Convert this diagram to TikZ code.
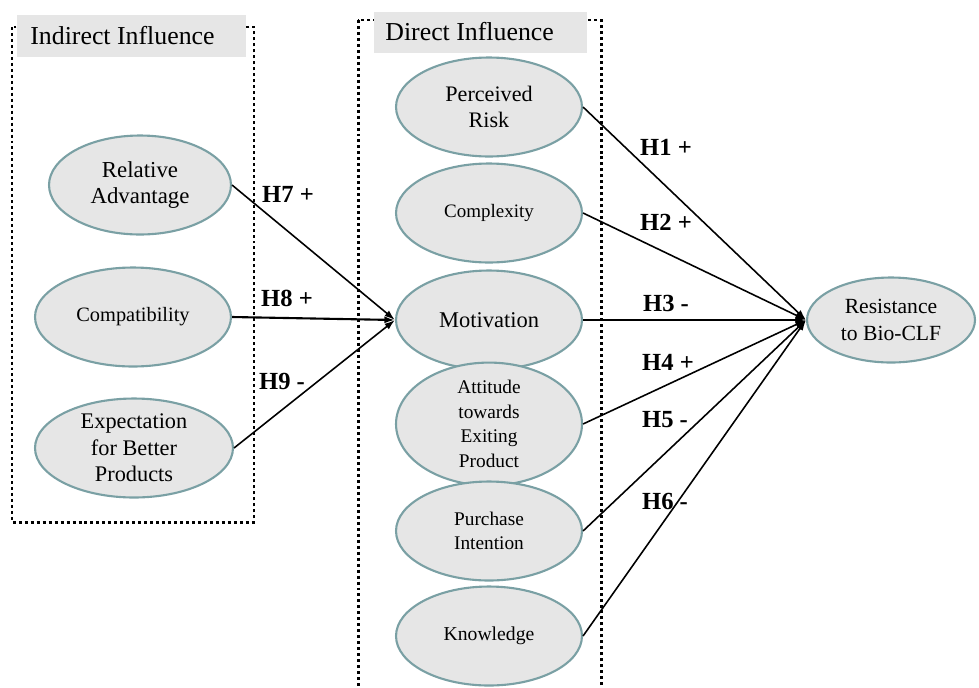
\documentclass[tikz,border=0pt]{standalone}
\usepackage{fontspec}
\setmainfont{Liberation Serif}
\usetikzlibrary{shapes.geometric,arrows.meta}
\definecolor{bubblefill}{RGB}{230,230,230}
\definecolor{bubbleedge}{RGB}{122,160,164}
\definecolor{headfill}{RGB}{230,230,230}
\begin{document}
\begin{tikzpicture}[x=0.02cm,y=-0.02cm,
  construct/.style={ellipse,draw=bubbleedge,fill=bubblefill,line width=1.2pt,inner sep=0pt,
    minimum width=3.72cm,minimum height=1.98cm,align=center,font=\fontsize{13}{15}\selectfont},
  region/.style={draw,line width=1.7pt,dash pattern=on 1.7pt off 1.7pt},
  heading/.style={anchor=west,inner sep=0pt,font=\fontsize{14.7}{17}\selectfont},
  link/.style={line width=0.9pt,-{Latex[length=6pt,width=4pt]}},
  hyp/.style={font=\bfseries\fontsize{14}{16}\selectfont}]
\useasboundingbox (0,0) rectangle (979,687);
\draw[region] (12,27) rectangle (254,522);
\draw[region] (358,20) rectangle (601,700);
\fill[headfill] (17,15) rectangle (246,57);
\fill[headfill] (374,12) rectangle (587,53);
\node[heading] (indirect) at (30,36) {Indirect Influence};
\node[heading] (direct) at (385,32) {Direct Influence};
\node[construct,minimum width=3.64cm] (ra) at (140,185) {Relative\\Advantage};
\node[construct,minimum width=3.92cm,font=\fontsize{11.6}{14}\selectfont] (comp) at (133,317) {Compatibility};
\node[construct,minimum width=3.96cm,font=\fontsize{12.7}{15}\selectfont] (exp) at (134,448) {Expectation\\for Better\\Products};
\node[construct,font=\fontsize{12.6}{15}\selectfont] (risk) at (489,107) {Perceived\\Risk};
\node[construct,font=\fontsize{10.8}{13}\selectfont] (cplx) at (489,213) {Complexity};
\node[construct,font=\fontsize{12.8}{15}\selectfont] (mot) at (489,320) {Motivation};
\node[construct,font=\fontsize{11}{13.9}\selectfont] (att) at (489,424) {Attitude\\towards\\Exiting\\Product};
\node[construct,font=\fontsize{11}{13.5}\selectfont] (pur) at (489,531) {Purchase\\Intention};
\node[construct,font=\fontsize{11.2}{13}\selectfont] (know) at (489,636) {Knowledge};
\node[construct,minimum width=3.36cm,minimum height=1.7cm,font=\fontsize{12.3}{15}\selectfont] (res) at (891,320) {Resistance\\to Bio-CLF};
\draw[link] (ra.east) -- (mot.west);
\draw[link,line width=1.2pt] (comp.east) -- (mot.west);
\draw[link] (exp.east) -- (mot.west);
\draw[link] (risk.east) -- (res.west);
\draw[link] (cplx.east) -- (res.west);
\draw[link,line width=1.4pt] (mot.east) -- (res.west);
\draw[link] (att.east) -- (res.west);
\draw[link] (pur.east) -- (res.west);
\draw[link] (know.east) -- (res.west);
\node[hyp] (h7) at (288,194) {H7 +};
\node[hyp] (h8) at (287,298) {H8 +};
\node[hyp] (h9) at (282,381) {H9 -};
\node[hyp] (h1) at (666,147) {H1 +};
\node[hyp] (h2) at (666,222) {H2 +};
\node[hyp] (h3) at (666,303) {H3 -};
\node[hyp] (h4) at (668,362) {H4 +};
\node[hyp] (h5) at (665,420) {H5 -};
\node[hyp] (h6) at (665,501) {H6 -};
\end{tikzpicture}
\end{document}
